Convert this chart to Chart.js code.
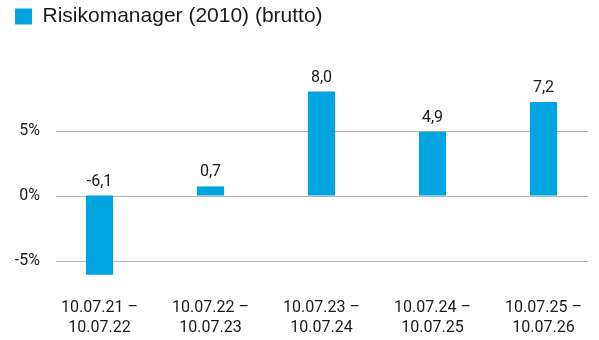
<!DOCTYPE html>
<html>
<head>
<meta charset="utf-8">
<script src="https://cdn.jsdelivr.net/npm/chart.js@4/dist/chart.umd.min.js"></script>
<style>
  html, body { margin: 0; padding: 0; background: #fff; }
  #wrap { width: 599px; height: 340px; }
</style>
</head>
<body>
<div id="wrap"><canvas id="perf"></canvas></div>
<script>
// periods and yearly performance in percent
var periods = [
  ['10.07.21 \u2013', '10.07.22'],
  ['10.07.22 \u2013', '10.07.23'],
  ['10.07.23 \u2013', '10.07.24'],
  ['10.07.24 \u2013', '10.07.25'],
  ['10.07.25 \u2013', '10.07.26']
];
var returns = [-6.1, 0.7, 8.0, 4.9, 7.2];
var yTicks = [-5, 0, 5];

var barColor = '#00a5df';
var textColor = '#1a1a1a';
var gridColor = '#b3b3b3';

var chartDecor = {
  id: 'chartDecor',
  beforeInit: function (chart) {
    // fixed legend band so the plot area starts at the same place every time
    var fit = chart.legend.fit;
    chart.legend.fit = function () {
      fit.call(this);
      this.height = 33;
    };
  },
  // horizontal grid lines, inset a little from the plot edges
  beforeDatasetsDraw: function (chart) {
    var ctx = chart.ctx;
    var area = chart.chartArea;
    var y = chart.scales.y;
    ctx.save();
    ctx.strokeStyle = gridColor;
    ctx.lineWidth = 1;
    yTicks.forEach(function (t) {
      var py = Math.round(y.getPixelForValue(t)) + 0.5;
      ctx.beginPath();
      ctx.moveTo(area.left + 12, py);
      ctx.lineTo(area.right - 11, py);
      ctx.stroke();
    });
    ctx.restore();
  },
  // value labels above each bar (negative bars get the label above the zero line)
  afterDatasetsDraw: function (chart) {
    var ctx = chart.ctx;
    var meta = chart.getDatasetMeta(0);
    var y = chart.scales.y;
    ctx.save();
    ctx.font = '16px Roboto';
    ctx.fillStyle = textColor;
    ctx.textAlign = 'center';
    ctx.textBaseline = 'alphabetic';
    meta.data.forEach(function (bar, i) {
      var v = returns[i];
      var top = y.getPixelForValue(Math.max(v, 0));
      ctx.fillText(v.toFixed(1).replace('.', ','), bar.x, top - 10);
    });
    ctx.restore();
  }
};

var ctx = document.getElementById('perf').getContext('2d');
var myChart = new Chart(ctx, {
  type: 'bar',
  data: {
    labels: periods,
    datasets: [{
      label: 'Risikomanager (2010) (brutto)',
      data: returns,
      backgroundColor: barColor,
      borderWidth: 0,
      categoryPercentage: 1,
      barPercentage: 0.245
    }]
  },
  options: {
    responsive: true,
    maintainAspectRatio: false,
    animation: false,
    layout: { padding: { left: 9, right: 0, top: 0, bottom: 0 } },
    plugins: {
      legend: {
        align: 'start',
        labels: {
          boxWidth: 17,
          boxHeight: 16,
          padding: 6,
          color: textColor,
          font: { family: 'Liberation Sans', size: 21 }
        }
      },
      tooltip: { enabled: false }
    },
    scales: {
      x: {
        afterFit: function (scale) {
          scale.height = 60;
          scale.paddingLeft = 0;
          scale.paddingRight = 0;
        },
        grid: { display: false, drawTicks: false },
        border: { display: false },
        ticks: {
          color: textColor,
          padding: 18,
          maxRotation: 0,
          font: { family: 'Roboto', size: 16, lineHeight: 1.25 }
        }
      },
      y: {
        min: -6.5,
        max: 12.5,
        afterFit: function (scale) { scale.width = 35; },
        afterBuildTicks: function (scale) {
          scale.ticks = yTicks.map(function (v) { return { value: v }; });
        },
        grid: { display: false, drawTicks: false },
        border: { display: false },
        ticks: {
          color: textColor,
          padding: 4,
          font: { family: 'Roboto', size: 16 },
          callback: function (v) { return v + '%'; }
        }
      }
    }
  },
  plugins: [chartDecor]
});
</script>
</body>
</html>
